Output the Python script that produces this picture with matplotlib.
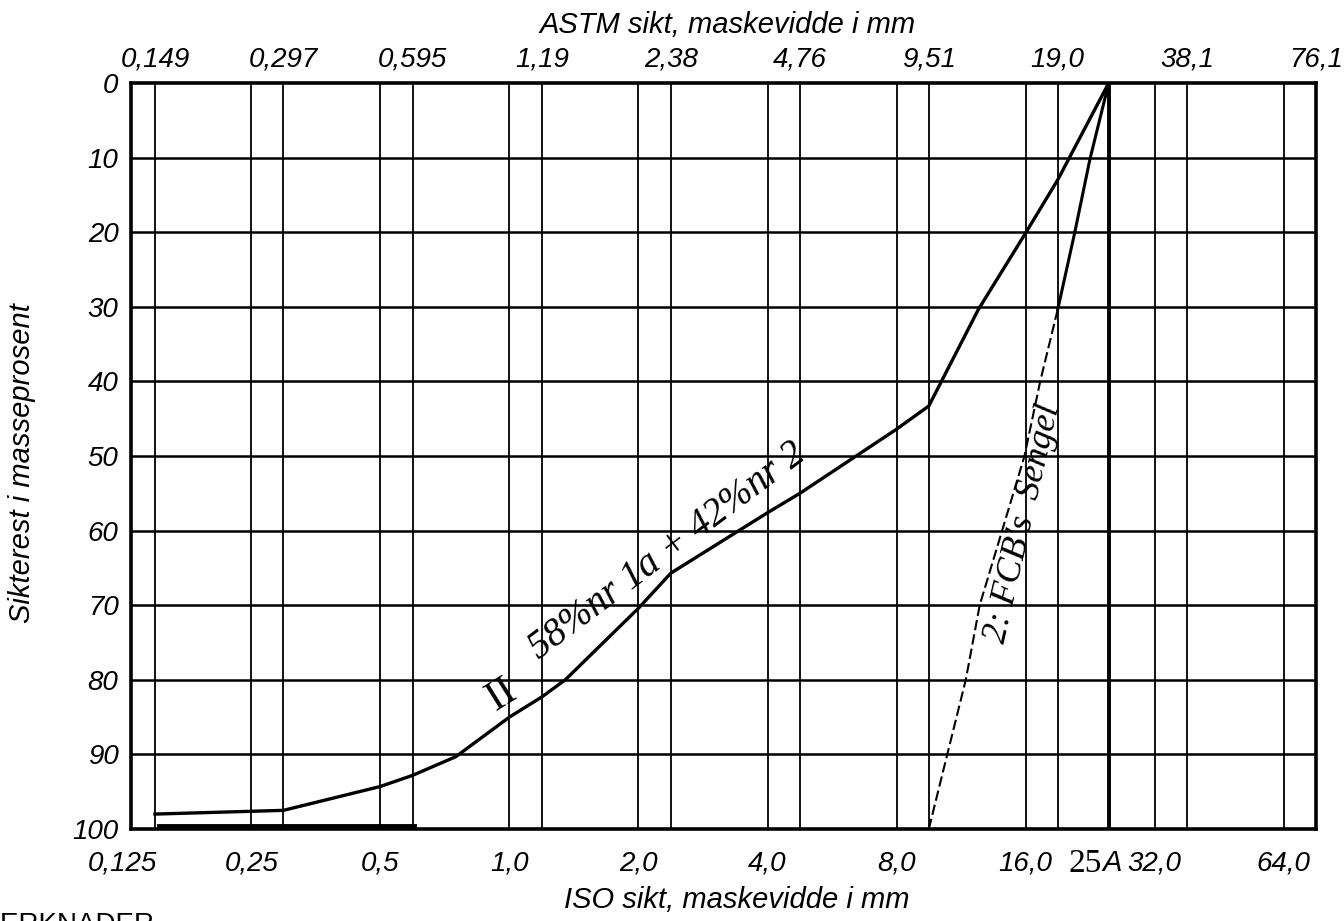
import matplotlib.pyplot as plt
from matplotlib import transforms

# sikteserier (mm)
iso_sizes = [0.125, 0.25, 0.5, 1.0, 2.0, 4.0, 8.0, 16.0, 32.0, 64.0]
iso_labels = ['0,125', '0,25', '0,5', '1,0', '2,0', '4,0', '8,0', '16,0', '32,0', '64,0']
astm_sizes = [0.149, 0.297, 0.595, 1.19, 2.38, 4.76, 9.51, 19.0, 38.1, 76.1]
astm_labels = ['0,149', '0,297', '0,595', '1,19', '2,38', '4,76', '9,51', '19,0', '38,1', '76,1']
extra_size = 25.0
pct_ticks = [0, 10, 20, 30, 40, 50, 60, 70, 80, 90, 100]

# kurve II: 58 % nr 1a + 42 % nr 2
mix_mm = [0.149, 0.297, 0.5, 0.595, 0.75, 1.0, 1.19, 1.35, 2.0, 2.38, 4.0, 4.76, 8.0, 9.51, 12.4, 16.0, 19.0, 25.0]
mix_pct = [98.0, 97.5, 94.3, 92.8, 90.3, 85.0, 82.3, 80.0, 70.4, 65.7, 57.6, 55.0, 46.4, 43.3, 30.4, 20.1, 13.0, 0.0]

# kurve 2: FCB's Sengel (stiplet nede, heltrukket oppe)
seng_mm = [9.51, 11.6, 12.5, 14.1, 15.9, 17.3, 19.0, 20.8, 22.6, 25.0]
seng_pct = [100.0, 80.0, 70.0, 60.0, 50.0, 40.0, 30.4, 20.2, 10.2, 0.0]
seng_split = 6

# tykk strek langs bunnen
rest_mm = [0.152, 0.6]
rest_pct = [99.6, 99.6]

plt.rcParams['font.family'] = ['Liberation Sans', 'DejaVu Sans']
W, H = 1344, 921
fig = plt.figure(figsize=(W / 100, H / 100), dpi=100)
ax = fig.add_axes([131 / W, 1 - 829 / H, (1316 - 131) / W, (829 - 83) / H])

ax.set_xscale('log')
ax.set_xlim(0.131, 76.1)
ax.set_ylim(100, 0)

# rutenett
for s in iso_sizes + astm_sizes:
    if 0.131 < s < 76.1:
        ax.axvline(s, color='black', lw=1.3, zorder=1)
ax.axvline(extra_size, color='black', lw=2.8, zorder=1)
for p in pct_ticks[1:-1]:
    ax.axhline(p, color='black', lw=1.8, zorder=1)

for sp in ax.spines.values():
    sp.set_linewidth(2.6)

ax.set_xticks([])
ax.minorticks_off()
ax.set_yticks(pct_ticks)
ax.set_yticklabels([str(p) for p in pct_ticks], fontsize=20, style='italic')
ax.tick_params(axis='y', length=0, pad=9)

trans = transforms.blended_transform_factory(ax.transData, ax.transAxes)
for s, lab in zip(astm_sizes, astm_labels):
    ax.text(s, 1.031, lab, transform=trans, ha='center', va='center',
            fontsize=20, style='italic', clip_on=False)
for s, lab in zip(iso_sizes, iso_labels):
    ax.text(s, -0.046, lab, transform=trans, ha='center', va='center',
            fontsize=20, style='italic', clip_on=False)
ax.text(22.0, -0.046, '25', transform=trans, ha='center', va='center',
        fontsize=24, family='Liberation Serif', clip_on=False)
ax.text(25.4, -0.046, 'A', transform=trans, ha='center', va='center',
        fontsize=21, style='italic', clip_on=False)

# kurver
ax.plot(mix_mm, mix_pct, color='black', lw=2.4, zorder=3)
ax.plot(seng_mm[:seng_split + 1], seng_pct[:seng_split + 1], color='black',
        lw=1.5, ls=(0, (5, 2)), zorder=3)
ax.plot(seng_mm[seng_split:], seng_pct[seng_split:], color='black', lw=2.2, zorder=3)
ax.plot(rest_mm, rest_pct, color='black', lw=3.5, zorder=3)

# håndskrevne merknader
ax.text(0.96, 82.0, 'II', fontsize=30, family='Liberation Serif', rotation=32,
        ha='center', va='center')
ax.text(2.34, 62.8, '58%nr 1a + 42%nr 2', fontsize=28, family='Liberation Serif',
        style='italic', rotation=37, ha='center', va='center')
ax.text(15.8, 59.0, "2: FCB's  Sengel", fontsize=26, family='Liberation Serif',
        style='italic', rotation=77, ha='center', va='center')

fig.text(728 / W, 1 - 25 / H, 'ASTM sikt, maskevidde i mm', fontsize=21,
         style='italic', ha='center', va='center')
fig.text(737 / W, 1 - 900 / H, 'ISO sikt, maskevidde i mm', fontsize=21,
         style='italic', ha='center', va='center')
fig.text(22 / W, 1 - 463 / H, 'Sikterest i masseprosent', fontsize=21,
         style='italic', rotation=90, ha='center', va='center')
fig.text(-22 / W, 1 - 912 / H, 'MERKNADER', fontsize=20, ha='left', va='top')

fig.savefig('out.png', dpi=100)
